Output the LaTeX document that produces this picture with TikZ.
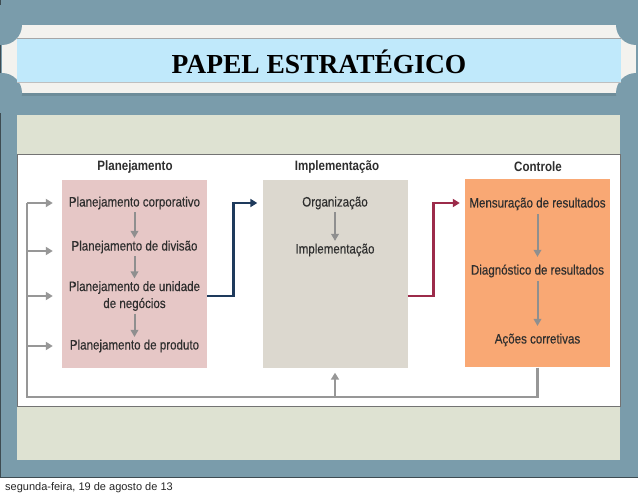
\documentclass[tikz,border=0pt]{standalone}
\usepackage{fontspec}
\setmainfont{Liberation Sans}
\newfontfamily\condfont{Liberation Sans}[FakeStretch=0.85, FakeBold=0.35]
\newfontfamily\condbold{Liberation Sans}[FakeStretch=0.85, UprightFont={* Bold}]
\newfontfamily\titlefont{Liberation Serif}
\usetikzlibrary{arrows.meta}
\definecolor{slidebg}{HTML}{7A9CAB}
\definecolor{slideedge}{HTML}{3E4C52}
\definecolor{bannerwhite}{HTML}{F3F2EE}
\definecolor{titleblue}{HTML}{C0E9FB}
\definecolor{panelbeige}{HTML}{DEE2D2}
\definecolor{pinkbox}{HTML}{E6C7C6}
\definecolor{greybox}{HTML}{DCD8CF}
\definecolor{orangebox}{HTML}{F9A874}
\definecolor{arrowgray}{HTML}{979797}
\definecolor{navyline}{HTML}{1E3A5C}
\definecolor{redline}{HTML}{9C2B4A}
\definecolor{txt}{HTML}{2E2E2E}
\begin{document}
\begin{tikzpicture}[x=1pt,y=-1pt,
  colbox/.style={minimum width=145pt, minimum height=188pt, inner sep=0pt},
  body/.style={font=\condfont\fontsize{13.6}{17}\selectfont, text=txt, inner sep=2.5pt, align=center},
  head/.style={font=\condbold\fontsize{13.6}{15}\selectfont, text=txt, inner sep=1pt},
  garrow/.style={draw=arrowgray, line width=2.3pt, -{Triangle[length=7pt,width=8pt]}},
  inarrow/.style={draw=arrowgray!95!black, line width=2pt, -{Triangle[length=7pt,width=7.5pt]}},
  gline/.style={draw=arrowgray, line width=2.3pt},
  flowarrow/.style={line width=2.8pt, -{Triangle[length=7pt,width=8pt]}},
]
\useasboundingbox (0,0) rectangle (638,497);
\fill[white] (0,0) rectangle (638,497);
\fill[slidebg] (0,0) rectangle (638,478);
\draw[slideedge, line width=1.2pt] (0.6,0) -- (0.6,477.5) -- (638,477.5);
% banner
\fill[black, opacity=0.10] (5,28) rectangle (633,96);
\fill[bannerwhite] (2,25) rectangle (636,93);
\foreach \p in {(2,25),(2,93),(636,25),(636,93)} \fill[slidebg] \p circle (20pt);
\fill[titleblue] (17,38) rectangle (621,82);
\draw[black!35, line width=0.5pt] (17,38) -- (621,38);
\draw[black!25, line width=0.5pt] (17,82) -- (621,82);
\node[font=\titlefont\bfseries\fontsize{27.5}{30}\selectfont, text=black] (title) at (319,62) {PAPEL ESTRATÉGICO};
% panel
\fill[panelbeige] (17,115) rectangle (620,460);
\fill[white] (17,154) rectangle (620,406);
\draw[black!55, line width=0.6pt] (17,154) rectangle (620,406);
% column boxes
\node[colbox, fill=pinkbox] (pbox) at (134.5,274.5) {};
\node[colbox, fill=greybox] (gbox) at (335,274.5) {};
\node[colbox, fill=orangebox] (obox) at (537.5,273.5) {};
% headers
\node[head] (h1) at (135,167) {Planejamento};
\node[head] (h2) at (337,167) {Implementação};
\node[head] (h3) at (538,167) {Controle};
% planejamento texts
\node[body] (p1) at (134.5,203) {Planejamento corporativo};
\node[body] (p2) at (134.5,247) {Planejamento de divisão};
\node[body] (p3) at (134.5,296) {Planejamento de unidade\\de negócios};
\node[body] (p4) at (134.5,346) {Planejamento de produto};
\draw[inarrow] (p1) -- (p2);
\draw[inarrow] (p2) -- (p3);
\draw[inarrow] (p3) -- (p4);
% implementacao texts
\node[body] (g1) at (335,203) {Organização};
\node[body] (g2) at (335,250) {Implementação};
\draw[inarrow] (g1) -- (g2);
% controle texts
\node[body] (o1) at (537.5,204) {Mensuração de resultados};
\node[body] (o2) at (537.5,271) {Diagnóstico de resultados};
\node[body] (o3) at (537.5,340) {Ações corretivas};
\draw[inarrow, shorten >=5pt, shorten <=1pt] (o1) -- (o2);
\draw[inarrow, shorten >=5pt, shorten <=1pt] (o2) -- (o3);
% flow arrows
\draw[flowarrow, draw=navyline] (pbox.east |- p3) -- ++(26,0) |- ([xshift=-5pt]gbox.west |- g1);
\draw[flowarrow, draw=redline] (gbox.east |- p3) -- ++(26,0) |- ([xshift=-5pt]obox.west |- g1);
% feedback loop
\coordinate (fbtop) at (27,203);
\coordinate (fbbot) at (27,397);
\draw[gline] (obox.south) -- (obox.south |- fbbot) -- (fbbot) -- (fbtop);
\draw[garrow] (fbtop) -- ([xshift=-9pt]pbox.west |- p1);
\draw[garrow] (fbtop |- 0,251) -- ([xshift=-9pt]pbox.west |- 0,251);
\draw[garrow] (fbtop |- p3) -- ([xshift=-9pt]pbox.west |- p3);
\draw[garrow] (fbtop |- p4) -- ([xshift=-9pt]pbox.west |- p4);
\draw[garrow] (gbox.south |- fbbot) -- ([yshift=-4pt]gbox.south);
% footer
\node[anchor=west, font=\fontsize{11}{13}\selectfont, text=black!85, inner sep=0pt] (footer) at (5,488) {segunda-feira, 19 de agosto de 13};
\end{tikzpicture}
\end{document}
